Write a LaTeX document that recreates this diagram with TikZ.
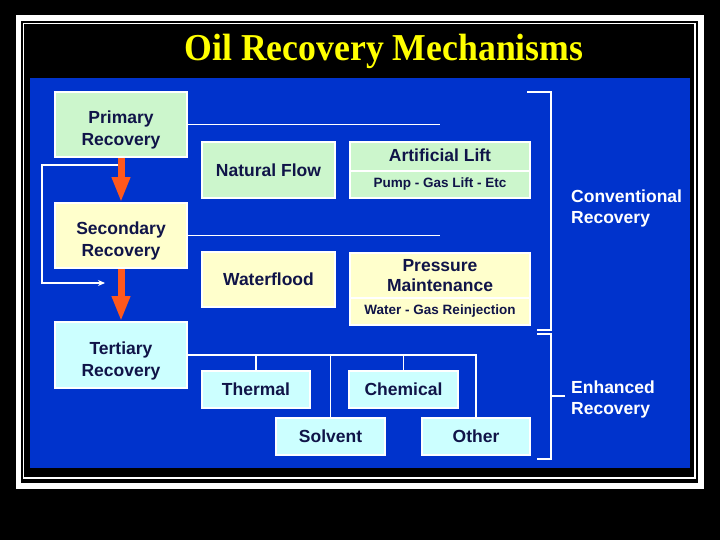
\documentclass[tikz,border=0pt]{standalone}
\usepackage{fontspec}
\setmainfont{Liberation Sans}
\newfontfamily\titlefont{Liberation Serif}
\usetikzlibrary{arrows.meta}

\definecolor{panelblue}{RGB}{0,51,204}
\definecolor{boxgreen}{RGB}{204,246,204}
\definecolor{boxyellow}{RGB}{255,255,204}
\definecolor{boxcyan}{RGB}{204,255,255}
\definecolor{boxtext}{RGB}{16,20,72}
\definecolor{flowred}{RGB}{255,88,28}
\definecolor{titleyellow}{RGB}{255,255,0}

% espaco extra acima da primeira linha das fases
\newcommand{\phasegap}{\rule{0pt}{24.5pt}}

\begin{document}
\begin{tikzpicture}[
  x = 1pt, y = -1pt,
  box/.style = {draw=white, line width=1.6pt, text=boxtext, align=center,
    inner sep=0pt, font=\bfseries\fontsize{17.5}{20}\selectfont},
  phase/.style = {box, minimum width=132, minimum height=65,
    font=\bfseries\fontsize{17.5}{22}\selectfont},
  subbox/.style = {box, font=\bfseries\fontsize{13.5}{16}\selectfont},
  link/.style = {white, line width=1.1pt},
  flow/.style = {flowred, line width=7pt, -{Triangle[width=17pt,length=25pt]}},
  side/.style = {text=white, align=left, anchor=west, inner sep=0pt,
    font=\bfseries\fontsize{17.5}{21}\selectfont}
]
% fundo e moldura
\fill[black] (0,0) rectangle (720,540);
\draw[white, line width=5.5pt] (18.5,18) rectangle (701,486);
\draw[white, line width=1.2pt] (23.5,23.5) rectangle (695,478);
\fill[panelblue] (30,78) rectangle (690,468);

\node[text=titleyellow, xscale=0.94,
  font=\titlefont\bfseries\fontsize{38}{40}\selectfont] (title) at (384,51)
  {Oil Recovery Mechanisms};

% fases de recuperacao
\node[phase, fill=boxgreen] (prim) at (121,124.5) {\phasegap Primary\\Recovery};
\node[phase, fill=boxyellow] (sec) at (121,235.5) {\phasegap Secondary\\Recovery};
\node[phase, fill=boxcyan, minimum height=66] (tert) at (121,355) {\phasegap Tertiary\\Recovery};

% metodos convencionais
\node[box, fill=boxgreen, minimum width=133, minimum height=56] (natflow) at (268.5,170)
  {Natural Flow};
\node[box, fill=boxgreen, minimum width=180, minimum height=29, text depth=3pt] (artlift)
  at (440,156.5) {Artificial Lift};
\node[subbox, fill=boxgreen, minimum width=180, minimum height=27] (pump) at (440,184.5)
  {Pump - Gas Lift - Etc};
\node[box, fill=boxyellow, minimum width=133, minimum height=55] (wflood) at (268.5,279.5)
  {Waterflood};
\node[box, fill=boxyellow, minimum width=180, minimum height=45] (pmaint) at (440,275.5)
  {Pressure\\Maintenance};
\node[subbox, fill=boxyellow, minimum width=180, minimum height=27] (reinj) at (440,311.5)
  {Water - Gas Reinjection};

% metodos avancados
\node[box, fill=boxcyan, minimum width=108, minimum height=37] (therm) at (256,389.5) {Thermal};
\node[box, fill=boxcyan, minimum width=109, minimum height=37] (chem) at (403.5,389.5) {Chemical};
\node[box, fill=boxcyan, minimum width=109, minimum height=37] (solv) at (330.5,436.5) {Solvent};
\node[box, fill=boxcyan, minimum width=108, minimum height=37] (oth) at (476,436.5) {Other};

% linhas de ligacao
\coordinate (primend) at (440,124.5);
\coordinate (secend) at (440,235.5);
\draw[link] (prim.east) -- (primend);
\draw[link] (sec.east) -- (secend);
\draw[link] (tert.east) -- (tert.east -| oth.north) -- (oth.north);
\draw[link] (therm.north) -- (therm.north |- tert.east);
\draw[link] (solv.north) -- (solv.north |- tert.east);
\draw[link] (chem.north) -- (chem.north |- tert.east);

% retorno direto para a terciaria
\coordinate (skipa) at (120,165);
\coordinate (skipb) at (105,283);
\draw[link, -{Stealth[length=7pt,width=6pt]}] (skipa) -- (42,165) -- (42,283) -- (skipb);

% setas entre fases
\draw[flow] (prim.south) -- (sec.north);
\draw[flow] (sec.south) -- (tert.north);

% chavetas
\draw[link] (527,92) -- (551,92) -- (551,330) -- (537,330);
\draw[link] (537,334) -- (551,334) -- (551,459) -- (537,459);
\draw[link] (551,396) -- (565,396);
\node[side] (conv) at (571,208) {Conventional\\Recovery};
\node[side] (enh) at (571,399) {Enhanced\\Recovery};
\end{tikzpicture}
\end{document}
